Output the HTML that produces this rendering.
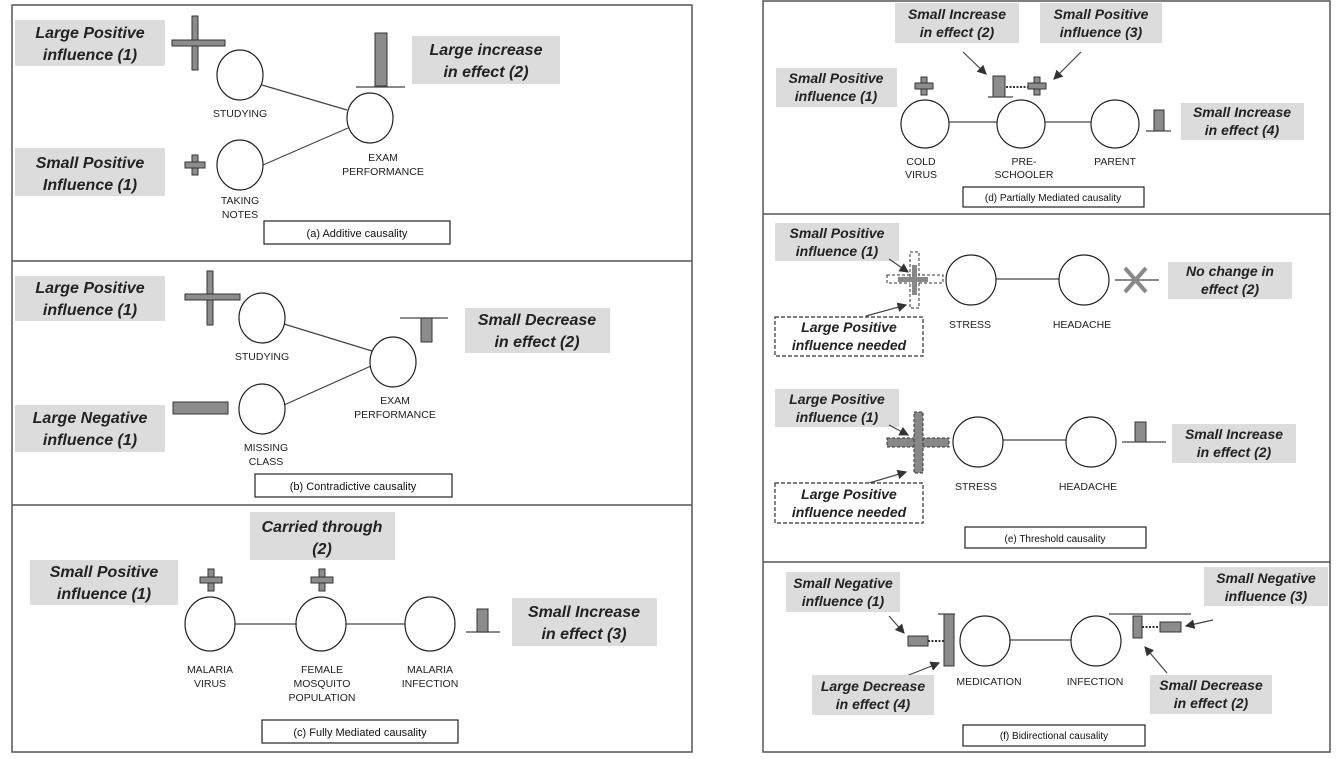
<!DOCTYPE html>
<html><head><meta charset="utf-8"><style>
html,body{margin:0;padding:0;background:#fff;}
svg{display:block;}
.lb{fill:#dcdcdc;}
.lt{font-family:"Liberation Sans",sans-serif;font-style:italic;font-weight:bold;font-size:16px;fill:#222;text-anchor:middle;}
.lt2{font-family:"Liberation Sans",sans-serif;font-style:italic;font-weight:bold;font-size:14px;fill:#222;text-anchor:middle;}
.nt{font-family:"Liberation Sans",sans-serif;font-size:10.5px;fill:#222;text-anchor:middle;}
.ct{font-family:"Liberation Sans",sans-serif;font-size:11px;fill:#111;text-anchor:middle;}
.c{fill:#fff;stroke:#222;stroke-width:1.2;}
.ln{stroke:#444;stroke-width:1.2;fill:none;}
.g{fill:#8c8c8c;stroke:#333;stroke-width:1;}
.cap{fill:#fff;stroke:#222;stroke-width:1.2;}
</style></head><body>
<svg width="1337" height="759" viewBox="0 0 1337 759" xmlns="http://www.w3.org/2000/svg">
<defs><marker id="ar" markerWidth="8" markerHeight="8" refX="7" refY="4" orient="auto"><path d="M0,0 L8,4 L0,8 z" fill="#333"/></marker></defs>
<!-- frames -->
<rect x="12" y="5" width="680" height="747" fill="none" stroke="#555" stroke-width="1.5"/>
<line x1="12" y1="261" x2="692" y2="261" stroke="#555" stroke-width="1.5"/>
<line x1="12" y1="505" x2="692" y2="505" stroke="#555" stroke-width="1.5"/>
<rect x="763" y="1" width="567" height="751" fill="none" stroke="#555" stroke-width="1.5"/>
<line x1="763" y1="214" x2="1330" y2="214" stroke="#555" stroke-width="1.5"/>
<line x1="763" y1="562" x2="1330" y2="562" stroke="#555" stroke-width="1.5"/>

<!-- (a) -->
<rect class="lb" x="15" y="20" width="150" height="46"/>
<text class="lt" x="90" y="38">Large Positive</text><text class="lt" x="90" y="60">influence (1)</text>
<rect class="g" x="192" y="16" width="6" height="54"/><rect class="g" x="172" y="40" width="53" height="6"/>
<line class="ln" x1="262" y1="85" x2="347" y2="110"/><line class="ln" x1="263" y1="165" x2="348" y2="128"/>
<ellipse class="c" cx="240" cy="75" rx="23" ry="25"/>
<text class="nt" x="240" y="117">STUDYING</text>
<ellipse class="c" cx="370" cy="118" rx="23" ry="25"/>
<text class="nt" x="383" y="161">EXAM</text><text class="nt" x="383" y="175">PERFORMANCE</text>
<rect class="g" x="375" y="33" width="12" height="53"/><line class="ln" x1="356" y1="87" x2="405" y2="87"/>
<rect class="lb" x="412" y="36" width="148" height="48"/>
<text class="lt" x="486" y="55">Large increase</text><text class="lt" x="486" y="77">in effect (2)</text>
<rect class="lb" x="15" y="148" width="150" height="48"/>
<text class="lt" x="90" y="168">Small Positive</text><text class="lt" x="90" y="190">Influence (1)</text>
<rect class="g" x="192" y="155" width="6" height="20"/><rect class="g" x="185" y="162" width="20" height="6"/>
<ellipse class="c" cx="240" cy="165" rx="23" ry="25"/>
<text class="nt" x="240" y="204">TAKING</text><text class="nt" x="240" y="218">NOTES</text>
<rect class="cap" x="264" y="221" width="186" height="23"/><text class="ct" x="357" y="237">(a) Additive causality</text>

<!-- (b) -->
<rect class="lb" x="15" y="276" width="150" height="45"/>
<text class="lt" x="90" y="293">Large Positive</text><text class="lt" x="90" y="315">influence (1)</text>
<rect class="g" x="207" y="271" width="6" height="54"/><rect class="g" x="185" y="294" width="55" height="6"/>
<line class="ln" x1="284" y1="324" x2="372" y2="351"/><line class="ln" x1="284" y1="405" x2="371" y2="366"/>
<ellipse class="c" cx="262" cy="318" rx="23" ry="25"/>
<text class="nt" x="262" y="360">STUDYING</text>
<ellipse class="c" cx="393" cy="362" rx="23" ry="25"/>
<text class="nt" x="395" y="404">EXAM</text><text class="nt" x="395" y="418">PERFORMANCE</text>
<ellipse class="c" cx="262" cy="409" rx="23" ry="25"/>
<text class="nt" x="266" y="451">MISSING</text><text class="nt" x="266" y="465">CLASS</text>
<rect class="g" x="173" y="402" width="55" height="12"/>
<rect class="lb" x="15" y="405" width="150" height="47"/>
<text class="lt" x="90" y="423">Large Negative</text><text class="lt" x="90" y="445">influence (1)</text>
<line class="ln" x1="400" y1="318" x2="448" y2="318"/><rect class="g" x="421" y="318" width="11" height="24"/>
<rect class="lb" x="465" y="308" width="145" height="45"/>
<text class="lt" x="537" y="325">Small Decrease</text><text class="lt" x="537" y="347">in effect (2)</text>
<rect class="cap" x="255" y="474" width="197" height="23"/><text class="ct" x="353" y="490">(b) Contradictive causality</text>

<!-- (c) -->
<rect class="lb" x="250" y="512" width="145" height="48"/>
<text class="lt" x="322" y="532">Carried through</text><text class="lt" x="322" y="554">(2)</text>
<rect class="lb" x="30" y="560" width="148" height="45"/>
<text class="lt" x="104" y="577">Small Positive</text><text class="lt" x="104" y="599">influence (1)</text>
<rect class="g" x="208" y="569" width="6" height="22"/><rect class="g" x="200" y="577" width="22" height="6"/>
<rect class="g" x="319" y="569" width="6" height="22"/><rect class="g" x="311" y="577" width="22" height="6"/>
<line class="ln" x1="233" y1="624" x2="296" y2="624"/><line class="ln" x1="346" y1="624" x2="405" y2="624"/>
<ellipse class="c" cx="210" cy="624" rx="25" ry="27"/>
<ellipse class="c" cx="321" cy="624" rx="25" ry="27"/>
<ellipse class="c" cx="430" cy="624" rx="25" ry="27"/>
<text class="nt" x="210" y="673">MALARIA</text><text class="nt" x="210" y="687">VIRUS</text>
<text class="nt" x="322" y="673">FEMALE</text><text class="nt" x="322" y="687">MOSQUITO</text><text class="nt" x="322" y="701">POPULATION</text>
<text class="nt" x="430" y="673">MALARIA</text><text class="nt" x="430" y="687">INFECTION</text>
<line class="ln" x1="466" y1="632" x2="500" y2="632"/><rect class="g" x="477" y="609" width="11" height="23"/>
<rect class="lb" x="512" y="598" width="145" height="48"/>
<text class="lt" x="584" y="617">Small Increase</text><text class="lt" x="584" y="639">in effect (3)</text>
<rect class="cap" x="262" y="720" width="196" height="23"/><text class="ct" x="360" y="736">(c)  Fully Mediated causality</text>

<!-- (d) -->
<rect class="lb" x="895" y="3" width="124" height="40"/>
<text class="lt2" x="957" y="19">Small Increase</text><text class="lt2" x="957" y="37">in effect (2)</text>
<rect class="lb" x="1040" y="3" width="122" height="40"/>
<text class="lt2" x="1101" y="19">Small Positive</text><text class="lt2" x="1101" y="37">influence (3)</text>
<line class="ln" x1="963" y1="52" x2="986" y2="74" marker-end="url(#ar)"/>
<line class="ln" x1="1081" y1="52" x2="1054" y2="79" marker-end="url(#ar)"/>
<rect class="lb" x="776" y="68" width="121" height="39"/>
<text class="lt2" x="836" y="83">Small Positive</text><text class="lt2" x="836" y="101">influence (1)</text>
<rect class="g" x="921" y="77" width="6" height="18"/><rect class="g" x="915" y="83" width="18" height="6"/>
<rect class="g" x="993" y="76" width="12" height="21"/><line class="ln" x1="988" y1="97" x2="1013" y2="97"/>
<line x1="1006" y1="87" x2="1028" y2="87" stroke="#333" stroke-width="2" stroke-dasharray="2,1.5"/>
<rect class="g" x="1034" y="77" width="6" height="18"/><rect class="g" x="1028" y="83" width="18" height="6"/>
<line class="ln" x1="949" y1="122" x2="997" y2="122"/><line class="ln" x1="1045" y1="122" x2="1091" y2="122"/>
<ellipse class="c" cx="925" cy="124" rx="24" ry="24"/>
<ellipse class="c" cx="1021" cy="124" rx="24" ry="24"/>
<ellipse class="c" cx="1115" cy="124" rx="24" ry="24"/>
<text class="nt" x="921" y="165">COLD</text><text class="nt" x="921" y="178">VIRUS</text>
<text class="nt" x="1024" y="165">PRE-</text><text class="nt" x="1024" y="178">SCHOOLER</text>
<text class="nt" x="1115" y="165">PARENT</text>
<rect class="g" x="1154" y="110" width="10" height="21"/><line class="ln" x1="1146" y1="131" x2="1171" y2="131"/>
<rect class="lb" x="1181" y="103" width="123" height="37"/>
<text class="lt2" x="1242" y="117">Small Increase</text><text class="lt2" x="1242" y="135">in effect (4)</text>
<rect class="cap" x="963" y="187" width="181" height="20"/><text class="ct" x="1053" y="201" style="font-size:10px">(d) Partially Mediated causality</text>

<!-- (e) top -->
<rect class="lb" x="775" y="223" width="124" height="38"/>
<text class="lt2" x="837" y="238">Small Positive</text><text class="lt2" x="837" y="256">influence (1)</text>
<rect x="887" y="275" width="56" height="8" fill="#fff" stroke="#333" stroke-dasharray="3,2"/>
<rect x="910" y="252" width="9" height="56" fill="#fff" stroke="#333" stroke-dasharray="3,2"/>
<rect x="912" y="265" width="5" height="30" fill="#888"/><rect x="898" y="277" width="30" height="5" fill="#888"/>
<line class="ln" x1="889" y1="259" x2="908" y2="272" marker-end="url(#ar)"/>
<line class="ln" x1="866" y1="316" x2="906" y2="305" marker-end="url(#ar)"/>
<rect x="775" y="317" width="148" height="39" fill="#fff" stroke="#333" stroke-width="1.2" stroke-dasharray="4,2"/>
<text class="lt2" x="849" y="332">Large Positive</text><text class="lt2" x="849" y="350">influence needed</text>
<line class="ln" x1="996" y1="279" x2="1060" y2="279"/>
<ellipse class="c" cx="971" cy="280" rx="25" ry="25"/>
<ellipse class="c" cx="1084" cy="280" rx="25" ry="25"/>
<text class="nt" x="970" y="328">STRESS</text><text class="nt" x="1082" y="328">HEADACHE</text>
<line class="ln" x1="1115" y1="280" x2="1159" y2="280"/>
<line x1="1125" y1="268" x2="1146" y2="292" stroke="#888" stroke-width="4"/>
<line x1="1146" y1="268" x2="1125" y2="292" stroke="#888" stroke-width="4"/>
<rect class="lb" x="1168" y="262" width="124" height="37"/>
<text class="lt2" x="1230" y="276">No change in</text><text class="lt2" x="1230" y="294">effect (2)</text>
<!-- (e) bottom -->
<rect class="lb" x="775" y="389" width="124" height="38"/>
<text class="lt2" x="837" y="404">Large Positive</text><text class="lt2" x="837" y="422">influence (1)</text>
<rect x="887" y="438" width="62" height="9" fill="#888" stroke="#333" stroke-dasharray="3,2"/>
<rect x="914" y="412" width="9" height="61" fill="#888" stroke="#333" stroke-dasharray="3,2"/>
<line class="ln" x1="889" y1="425" x2="908" y2="435" marker-end="url(#ar)"/>
<line class="ln" x1="866" y1="484" x2="906" y2="472" marker-end="url(#ar)"/>
<rect x="775" y="483" width="148" height="40" fill="#fff" stroke="#333" stroke-width="1.2" stroke-dasharray="4,2"/>
<text class="lt2" x="849" y="499">Large Positive</text><text class="lt2" x="849" y="517">influence needed</text>
<line class="ln" x1="1003" y1="440" x2="1066" y2="440"/>
<ellipse class="c" cx="978" cy="442" rx="25" ry="25"/>
<ellipse class="c" cx="1091" cy="442" rx="25" ry="25"/>
<text class="nt" x="976" y="490">STRESS</text><text class="nt" x="1088" y="490">HEADACHE</text>
<rect class="g" x="1135" y="422" width="11" height="20"/><line class="ln" x1="1122" y1="442" x2="1166" y2="442"/>
<rect class="lb" x="1172" y="424" width="124" height="39"/>
<text class="lt2" x="1234" y="439">Small Increase</text><text class="lt2" x="1234" y="457">in effect (2)</text>
<rect class="cap" x="965" y="527" width="181" height="21"/><text class="ct" x="1055" y="542" style="font-size:10px">(e) Threshold causality</text>

<!-- (f) -->
<rect class="lb" x="786" y="572" width="114" height="40"/>
<text class="lt2" x="843" y="588">Small Negative</text><text class="lt2" x="843" y="606">influence (1)</text>
<line class="ln" x1="889" y1="616" x2="904" y2="633" marker-end="url(#ar)"/>
<rect class="g" x="908" y="636" width="20" height="10"/>
<line x1="928" y1="641" x2="944" y2="641" stroke="#333" stroke-width="2" stroke-dasharray="2,1.5"/>
<rect class="g" x="944" y="614" width="10" height="52"/><line class="ln" x1="938" y1="614" x2="955" y2="614"/>
<line class="ln" x1="1010" y1="640" x2="1071" y2="640"/>
<ellipse class="c" cx="985" cy="641" rx="25" ry="25"/>
<ellipse class="c" cx="1096" cy="641" rx="25" ry="25"/>
<text class="nt" x="989" y="685">MEDICATION</text><text class="nt" x="1095" y="685">INFECTION</text>
<line class="ln" x1="1109" y1="614" x2="1191" y2="614"/>
<rect class="g" x="1133" y="616" width="9" height="22"/>
<line x1="1142" y1="627" x2="1159" y2="627" stroke="#333" stroke-width="2" stroke-dasharray="2,1.5"/>
<rect class="g" x="1160" y="622" width="21" height="10"/>
<line class="ln" x1="1213" y1="620" x2="1186" y2="626" marker-end="url(#ar)"/>
<rect class="lb" x="1204" y="567" width="124" height="39"/>
<text class="lt2" x="1266" y="583">Small Negative</text><text class="lt2" x="1266" y="601">influence (3)</text>
<line class="ln" x1="904" y1="677" x2="939" y2="663" marker-end="url(#ar)"/>
<rect class="lb" x="812" y="675" width="122" height="40"/>
<text class="lt2" x="873" y="691">Large Decrease</text><text class="lt2" x="873" y="709">in effect (4)</text>
<line class="ln" x1="1167" y1="673" x2="1145" y2="647" marker-end="url(#ar)"/>
<rect class="lb" x="1150" y="675" width="122" height="39"/>
<text class="lt2" x="1211" y="690">Small Decrease</text><text class="lt2" x="1211" y="708">in effect (2)</text>
<rect class="cap" x="963" y="725" width="182" height="21"/><text class="ct" x="1054" y="739" style="font-size:10px">(f) Bidirectional causality</text>
</svg>
</body></html>
